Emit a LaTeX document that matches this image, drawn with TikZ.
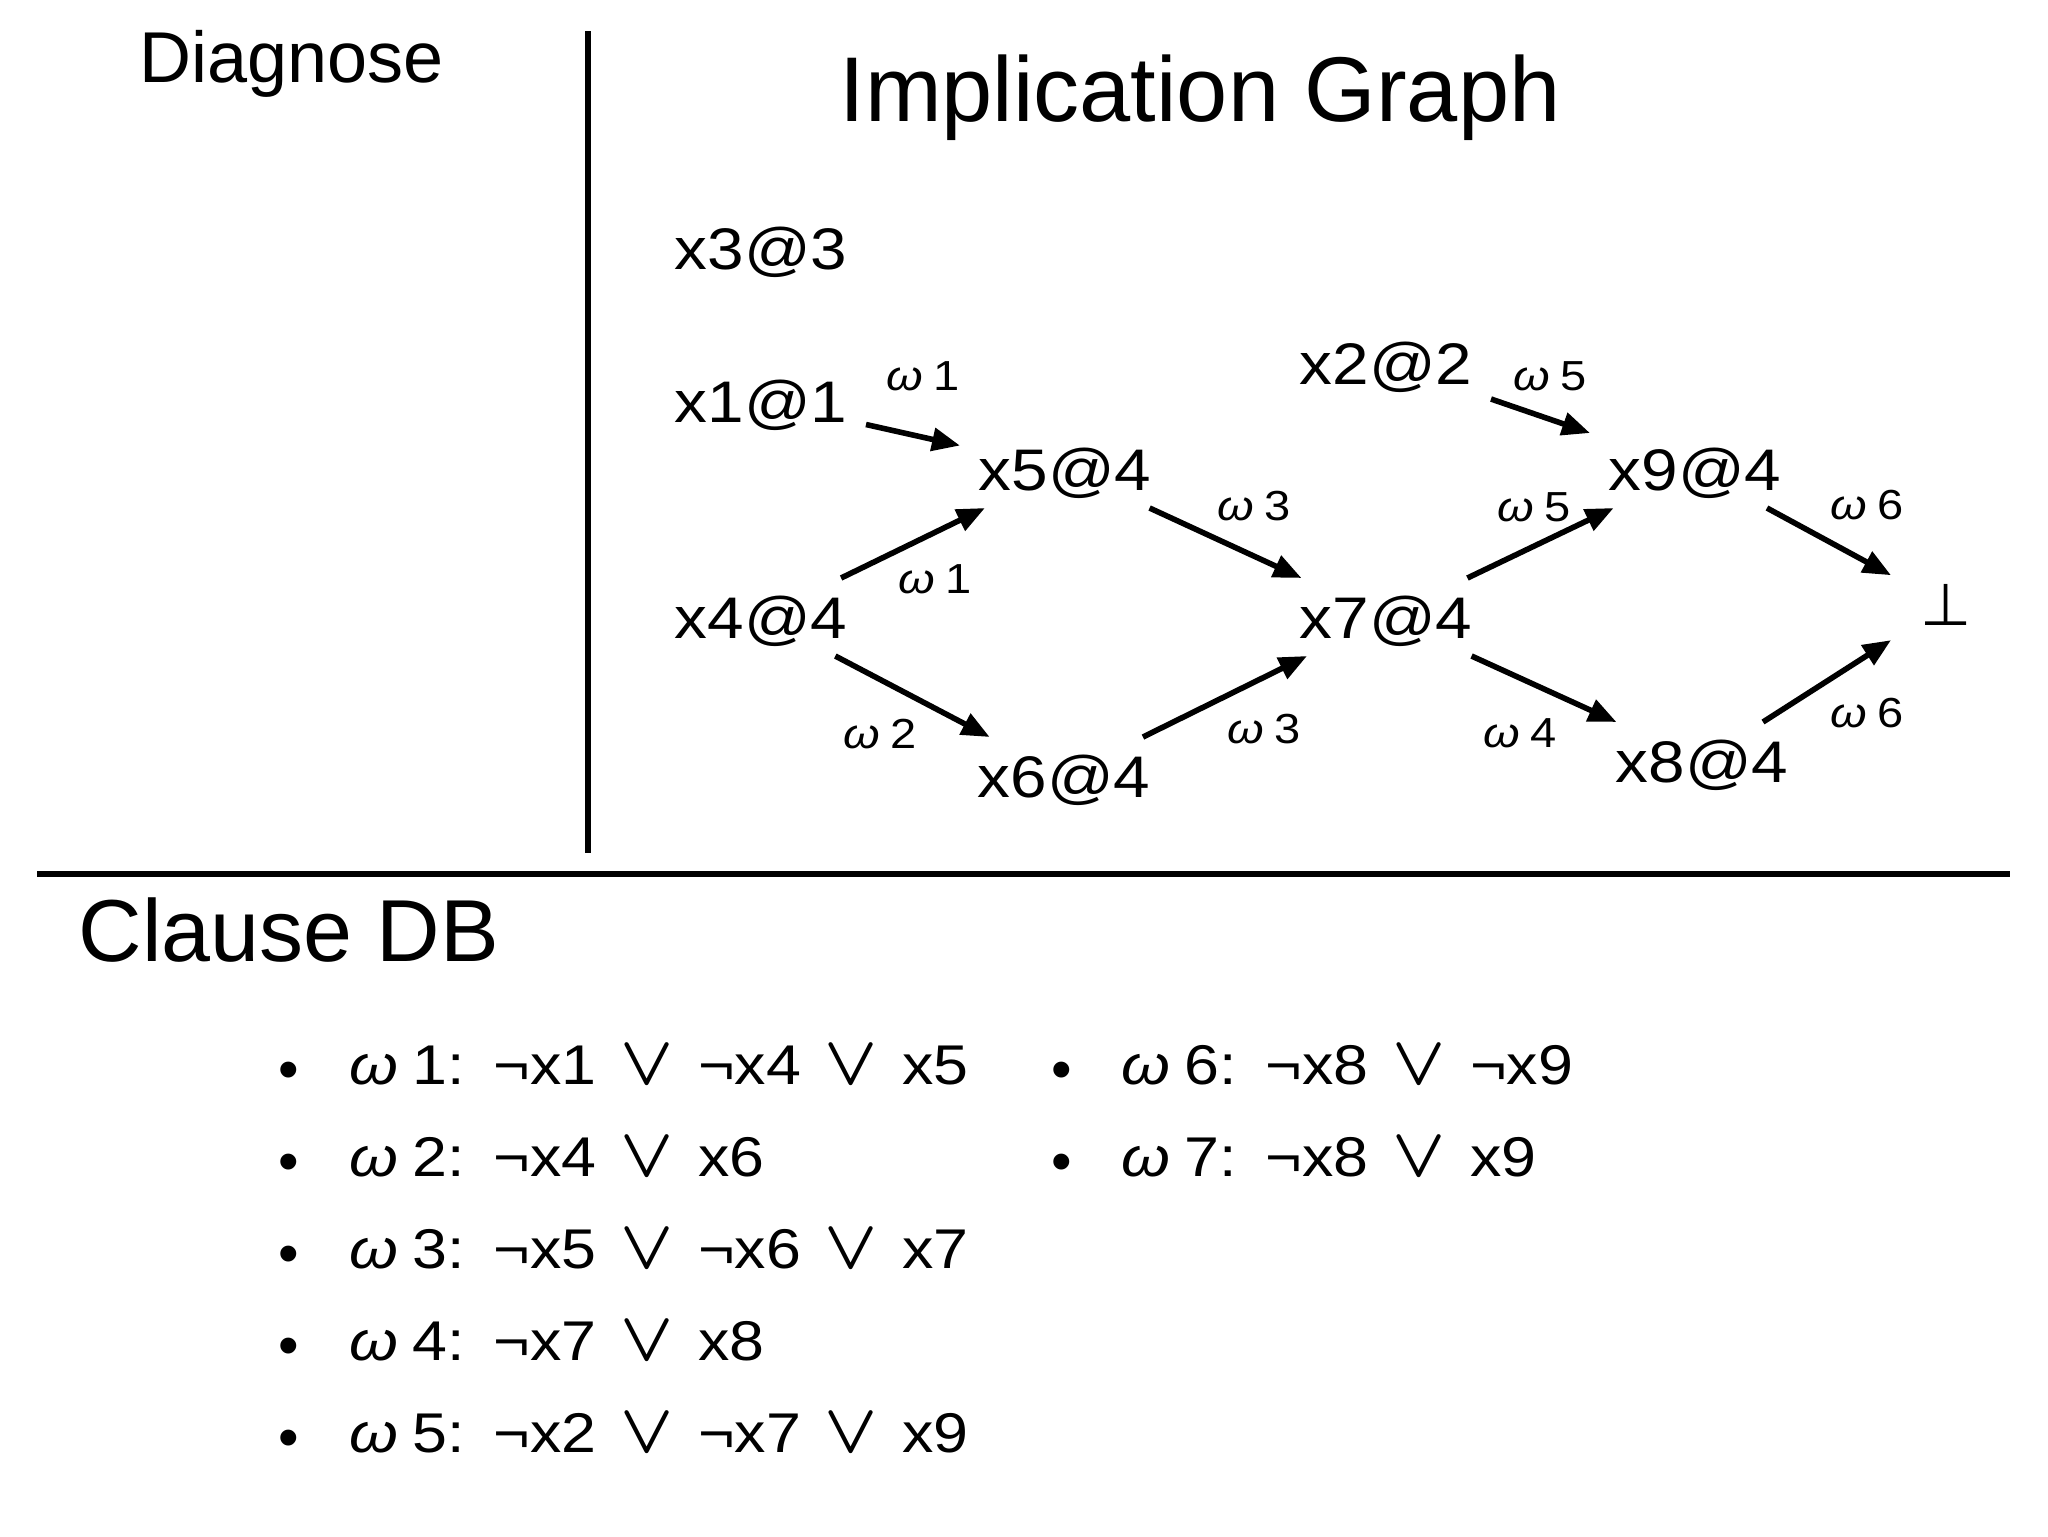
\RequirePackage{fix-cm}
\documentclass[tikz,border=0pt]{standalone}
\usepackage{fontspec}
\setmainfont{Liberation Sans}
\newfontfamily\dvfont{DejaVu Sans}
\newfontfamily\widefont[FakeStretch=1.12]{Liberation Sans}
\usetikzlibrary{arrows.meta}
\newcommand{\orsym}{\hspace{9pt}{\fontsize{26pt}{26pt}\selectfont\boldmath$\vee$}\hspace{9pt}}
\newcommand{\cname}[1]{{\itshape ω}\hspace{0.25em}#1:\hspace{11pt}}
\begin{document}
\begin{tikzpicture}[x=0.375pt,y=-0.375pt,
  var/.style={font=\widefont\fontsize{22pt}{26pt}\selectfont, inner sep=0pt, outer sep=0pt,
    minimum width=78.75pt, minimum height=29.25pt, text height=15.8pt, text depth=0pt},
  botnode/.style={font=\dvfont\fontsize{22pt}{26pt}\selectfont, inner sep=0pt, outer sep=0pt,
    minimum width=41.25pt, minimum height=30pt},
  lbl/.style={font=\widefont\fontsize{15.75pt}{19pt}\selectfont, inner sep=0pt, text height=11.3pt, text depth=0pt},
  arr/.style={line width=2.1pt, -{Triangle[length=10.5pt,width=8.5pt]}},
  divider/.style={line width=2pt},
  title/.style={anchor=base, inner sep=0pt},
  cl/.style={anchor=base west, inner sep=0pt, font=\widefont\fontsize{21pt}{26pt}\selectfont},
  bul/.style={anchor=base, inner sep=0pt, font=\fontsize{22pt}{26pt}\selectfont}
]
\useasboundingbox (0,0) rectangle (2048,1536);

% dividers
\draw[divider] (588,31) -- (588,853);
\draw[divider] (37,874) -- (2010,874);

% titles
\node[title, font=\fontsize{27pt}{32pt}\selectfont] (tdiag) at (292,82) {Diagnose};
\node[title, font=\fontsize{34.5pt}{40pt}\selectfont] (tgraph) at (1200,121) {Implication Graph};
\node[title, anchor=base west, font=\fontsize{33pt}{38pt}\selectfont] (tdb) at (78,961) {Clause DB};

% graph nodes
\node[var] (x3) at (761,248) {x3@3};
\node[var] (x1) at (761,401) {x1@1};
\node[var] (x4) at (761,617) {x4@4};
\node[var] (x5) at (1065,469) {x5@4};
\node[var] (x6) at (1064,776) {x6@4};
\node[var] (x7) at (1386,617) {x7@4};
\node[var] (x2) at (1386,363) {x2@2};
\node[var] (x9) at (1695,469) {x9@4};
\node[var] (x8) at (1702,761) {x8@4};
\node[botnode] (bot) at (1946,605) {⊥};

% edges
\draw[arr] (x1) -- (x5);
\draw[arr] (x4) -- (x5);
\draw[arr] (x4) -- (x6);
\draw[arr] (x5) -- (x7);
\draw[arr] (x6) -- (x7);
\draw[arr] (x2) -- (x9);
\draw[arr] (x7) -- (x9);
\draw[arr] (x7) -- (x8);
\draw[arr] (x9) -- (bot);
\draw[arr] (x8) -- (bot);

% edge labels
\node[lbl] (l1a) at (923,375) {{\itshape ω}\hspace{0.25em}1};
\node[lbl] (l1b) at (935,578) {{\itshape ω}\hspace{0.25em}1};
\node[lbl] (l2) at (880,733) {{\itshape ω}\hspace{0.25em}2};
\node[lbl] (l3a) at (1254,505) {{\itshape ω}\hspace{0.25em}3};
\node[lbl] (l3b) at (1264,728) {{\itshape ω}\hspace{0.25em}3};
\node[lbl] (l5a) at (1550,375) {{\itshape ω}\hspace{0.25em}5};
\node[lbl] (l5b) at (1534,506) {{\itshape ω}\hspace{0.25em}5};
\node[lbl] (l4) at (1520,732) {{\itshape ω}\hspace{0.25em}4};
\node[lbl] (l6a) at (1867,504) {{\itshape ω}\hspace{0.25em}6};
\node[lbl] (l6b) at (1867,712) {{\itshape ω}\hspace{0.25em}6};

% clause list
\node[bul] (b1) at (289,1089) {•};
\node[bul] (b2) at (289,1181) {•};
\node[bul] (b3) at (289,1273) {•};
\node[bul] (b4) at (289,1365) {•};
\node[bul] (b5) at (289,1457) {•};
\node[bul] (b6) at (1062,1089) {•};
\node[bul] (b7) at (1062,1181) {•};

\node[cl] (c1) at (349,1084) {\cname{1}¬x1\orsym¬x4\orsym x5};
\node[cl] (c2) at (349,1176) {\cname{2}¬x4\orsym x6};
\node[cl] (c3) at (349,1268) {\cname{3}¬x5\orsym¬x6\orsym x7};
\node[cl] (c4) at (349,1360) {\cname{4}¬x7\orsym x8};
\node[cl] (c5) at (349,1452) {\cname{5}¬x2\orsym¬x7\orsym x9};
\node[cl] (c6) at (1121,1084) {\cname{6}¬x8\orsym¬x9};
\node[cl] (c7) at (1121,1176) {\cname{7}¬x8\orsym x9};
\end{tikzpicture}
\end{document}
